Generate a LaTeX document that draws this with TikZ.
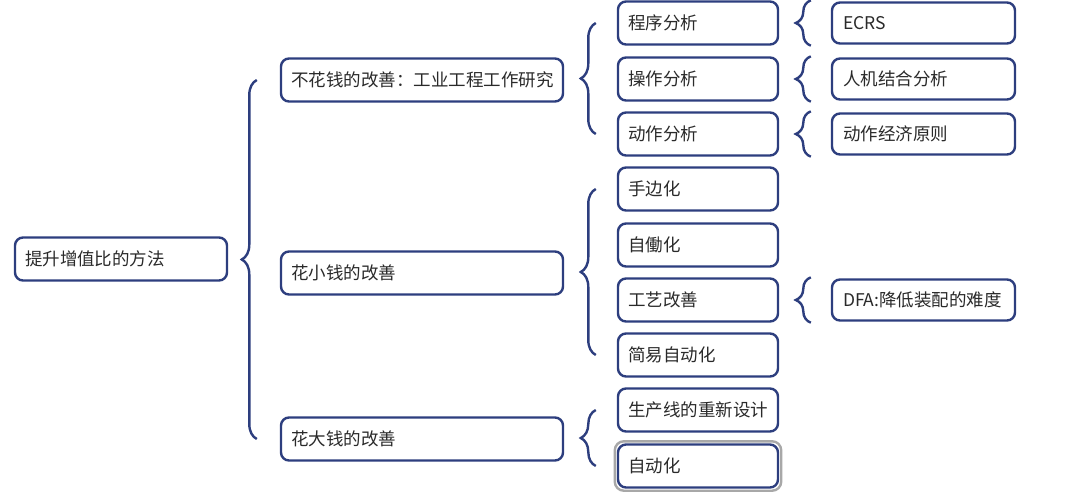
\documentclass[tikz,border=0pt]{standalone}
\usepackage{fontspec}
\setmainfont{Noto Sans CJK SC}
\usepackage{xcolor}
\usepackage{tikz}
\usetikzlibrary{positioning, calc, fit, decorations.pathreplacing}
\definecolor{Navy}{HTML}{2D3E7E}
\definecolor{NavyText}{HTML}{2A2A2A}
\definecolor{SelGray}{HTML}{A8A8A8}

\begin{document}
\begin{tikzpicture}[x=1pt, y=-1pt,
    box/.style={draw=Navy, line width=2.4pt, rounded corners=8pt, fill=white,
      inner xsep=10pt, inner ysep=0pt, minimum height=43pt, align=left,
      font=\fontsize{17.5}{20}\selectfont, text=NavyText},
    rootbox/.style={box, text width=192pt},
    lonebox/.style={box, text width=262pt},
    ltwobox/.style={box, text width=140pt},
    lthreebox/.style={box, text width=161pt, inner xsep=11pt, minimum height=41pt},
    curly/.style={draw=Navy, line width=2.4pt, decorate,
      decoration={brace, amplitude=15pt}},
  ]
  \useasboundingbox (0,0) rectangle (1080,496);

  % root and first level
  \node[rootbox] (root) at (121,259) {提升增值比的方法};
  \node[lonebox] (free) at (422,80) {不花钱的改善：工业工程工作研究};
  \node[lonebox] (small) at (422,273) {花小钱的改善};
  \node[lonebox] (big) at (422,439) {花大钱的改善};

  % second level
  \node[ltwobox] (prog) at (698,23) {程序分析};
  \node[ltwobox] (oper) at (698,79) {操作分析};
  \node[ltwobox] (move) at (698,134) {动作分析};
  \node[ltwobox] (hand) at (698,189) {手边化};
  \node[ltwobox] (jido) at (698,245) {自働化};
  \node[ltwobox] (craft) at (698,300) {工艺改善};
  \node[ltwobox] (simple) at (698,355) {简易自动化};
  \node[ltwobox] (line) at (698,410) {生产线的重新设计};
  \node[ltwobox] (auto) at (698,466) {自动化};
  \node[draw=SelGray, line width=2.4pt, rounded corners=9pt, inner sep=2pt,
        fit=(auto)] (autosel) {};

  % third level
  \node[lthreebox] (ecrs) at (923.5,23) {ECRS};
  \node[lthreebox] (manm) at (923.5,79) {人机结合分析};
  \node[lthreebox] (econ) at (923.5,134) {动作经济原则};
  \node[lthreebox] (dfa) at (923.5,300) {DFA:降低装配的难度};

  % braces
  \draw[curly] ($(big.west)+(-23,0)$) -- ($(free.west)+(-23,0)$);
  \draw[curly] ($(move.west)+(-21,0)$) -- ($(prog.west)+(-21,0)$);
  \draw[curly] ($(simple.west)+(-21,0)$) -- ($(hand.west)+(-21,0)$);
  \draw[curly] ($(auto.west)+(-21,0)$) -- ($(line.west)+(-21,0)$);
  \draw[curly] ($(ecrs.west |- prog.south)+(-20,0)$) -- ($(ecrs.west |- prog.north)+(-20,0)$);
  \draw[curly] ($(manm.west |- oper.south)+(-20,0)$) -- ($(manm.west |- oper.north)+(-20,0)$);
  \draw[curly] ($(econ.west |- move.south)+(-20,0)$) -- ($(econ.west |- move.north)+(-20,0)$);
  \draw[curly] ($(dfa.west |- craft.south)+(-20,0)$) -- ($(dfa.west |- craft.north)+(-20,0)$);
\end{tikzpicture}
\end{document}
